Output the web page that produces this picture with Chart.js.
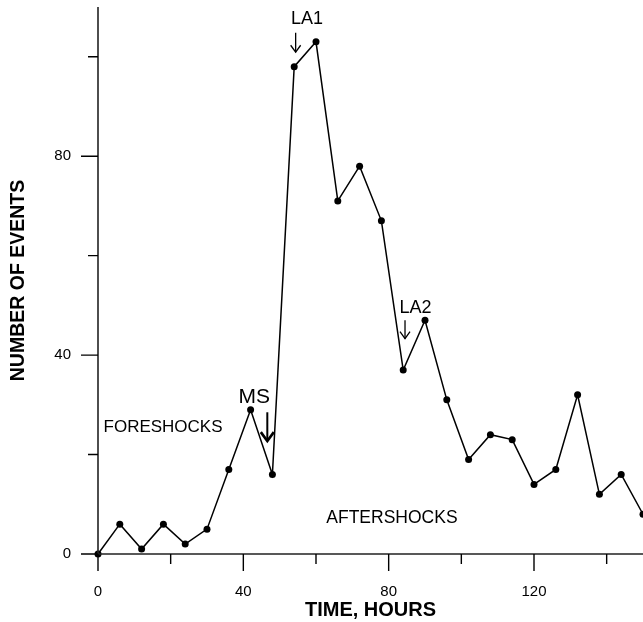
<!DOCTYPE html>
<html>
<head>
<meta charset="utf-8">
<script src="https://cdn.jsdelivr.net/npm/chart.js@4.4.1/dist/chart.umd.min.js"></script>
<style>
  html, body { margin: 0; padding: 0; background: #fff; }
  #wrap { width: 643px; height: 622px; }
</style>
</head>
<body>
<div id="wrap"><canvas id="chart"></canvas></div>
<script>
const hours = [0, 6, 12, 18, 24, 30, 36, 42, 48, 54, 60, 66, 72, 78, 84, 90, 96, 102, 108, 114, 120, 126, 132, 138, 144, 150];
const events = [0, 6, 1, 6, 2, 5, 17, 29, 16, 98, 103, 71, 78, 67, 37, 47, 31, 19, 24, 23, 14, 17, 32, 12, 16, 8];

const xMajor = [0, 40, 80, 120];
const xMinor = [20, 60, 100, 140];
const yMajor = [0, 40, 80];
const yMinor = [20, 60, 100];

// labels placed in data units (hours, events)
const notes = [
    { text: 'LA1', x: 57.5, y: 107.6, size: 18 },
    { text: 'LA2', x: 87.4, y: 49.5, size: 18 },
    { text: 'MS', x: 43.0, y: 31.6, size: 21 },
    { text: 'FORESHOCKS', x: 17.9, y: 25.5, size: 17 },
    { text: 'AFTERSHOCKS', x: 80.9, y: 7.3, size: 17.5 }
];
const arrows = [
    { x: 54.4, from: 104.8, to: 100.9, bold: false },
    { x: 84.5, from: 47.0, to: 43.3, bold: false },
    { x: 46.6, from: 28.5, to: 22.7, bold: true }
];

const FONT = "'Liberation Sans', Arial, sans-serif";
Chart.defaults.font.family = FONT;
Chart.defaults.color = '#000';

const axesPlugin = {
    id: 'axesPlugin',
    afterDraw(chart) {
        const { ctx, chartArea: a, scales: { x, y } } = chart;
        ctx.save();
        ctx.strokeStyle = '#222';
        ctx.lineWidth = 1.6;
        ctx.beginPath();
        ctx.moveTo(a.left, a.top);
        ctx.lineTo(a.left, a.bottom);
        ctx.moveTo(a.left, a.bottom);
        ctx.lineTo(a.right, a.bottom);
        ctx.stroke();

        ctx.strokeStyle = '#000';
        ctx.lineWidth = 1.4;
        ctx.beginPath();
        xMajor.concat(xMinor).forEach(v => {
            const px = x.getPixelForValue(v);
            const len = xMajor.includes(v) ? 17 : 10;
            ctx.moveTo(px, a.bottom);
            ctx.lineTo(px, a.bottom + len);
        });
        yMajor.concat(yMinor).forEach(v => {
            const py = y.getPixelForValue(v);
            const len = yMajor.includes(v) ? 17 : 10;
            ctx.moveTo(a.left, py);
            ctx.lineTo(a.left - len, py);
        });
        ctx.stroke();

        ctx.fillStyle = '#000';
        ctx.textAlign = 'center';
        ctx.textBaseline = 'middle';
        notes.forEach(n => {
            ctx.font = n.size + 'px ' + FONT;
            ctx.fillText(n.text, x.getPixelForValue(n.x), y.getPixelForValue(n.y));
        });

        arrows.forEach(ar => {
            const px = x.getPixelForValue(ar.x);
            const y0 = y.getPixelForValue(ar.from);
            const y1 = y.getPixelForValue(ar.to);
            ctx.lineWidth = ar.bold ? 2 : 1.3;
            ctx.beginPath();
            ctx.moveTo(px, y0);
            ctx.lineTo(px, y1);
            ctx.stroke();
            const w = ar.bold ? 6.5 : 5;
            const h = ar.bold ? 9 : 7;
            ctx.lineWidth = ar.bold ? 2.6 : 1.3;
            ctx.beginPath();
            ctx.moveTo(px - w, y1 - h);
            ctx.lineTo(px, y1);
            ctx.lineTo(px + w, y1 - h);
            ctx.stroke();
        });
        ctx.restore();
    }
};

const ctx = document.getElementById('chart').getContext('2d');
new Chart(ctx, {
    type: 'line',
    data: {
        datasets: [{
            data: hours.map((h, i) => ({ x: h, y: events[i] })),
            borderColor: '#000',
            borderWidth: 1.5,
            pointRadius: 3.5,
            pointBackgroundColor: '#000',
            pointBorderWidth: 0,
            tension: 0,
            clip: false
        }]
    },
    options: {
        responsive: true,
        maintainAspectRatio: false,
        animation: false,
        events: [],
        layout: { autoPadding: false, padding: { top: 7, right: 0, left: 0, bottom: 0 } },
        plugins: { legend: { display: false }, tooltip: { enabled: false } },
        scales: {
            x: {
                type: 'linear',
                min: 0,
                max: 150,
                grid: { drawOnChartArea: false, tickLength: 17, tickColor: 'rgba(0,0,0,0)' },
                border: { display: false },
                ticks: {
                    stepSize: 20,
                    autoSkip: false,
                    maxRotation: 0,
                    padding: 12,
                    font: { size: 15 },
                    callback: v => xMajor.includes(v) ? String(v) : ''
                },
                title: {
                    display: true,
                    text: 'TIME, HOURS',
                    font: { size: 20, weight: 'bold' },
                    padding: { top: 0, bottom: 0 }
                },
                afterFit: s => {
                    s.height = 68;
                    s.paddingLeft = 0;
                    s.paddingRight = 0;
                }
            },
            y: {
                min: 0,
                max: 110,
                grid: { drawOnChartArea: false, tickLength: 17, tickColor: 'rgba(0,0,0,0)' },
                border: { display: false },
                ticks: {
                    stepSize: 20,
                    autoSkip: false,
                    padding: 10,
                    font: { size: 15 },
                    callback: v => yMajor.includes(v) ? String(v) : ''
                },
                title: {
                    display: true,
                    text: 'NUMBER OF EVENTS',
                    font: { size: 19.5, weight: 'bold' },
                    padding: { top: 7, bottom: 0 }
                },
                afterFit: s => {
                    s.width = 98;
                    s.paddingTop = 0;
                    s.paddingBottom = 0;
                }
            }
        }
    },
    plugins: [axesPlugin]
});
</script>
</body>
</html>
